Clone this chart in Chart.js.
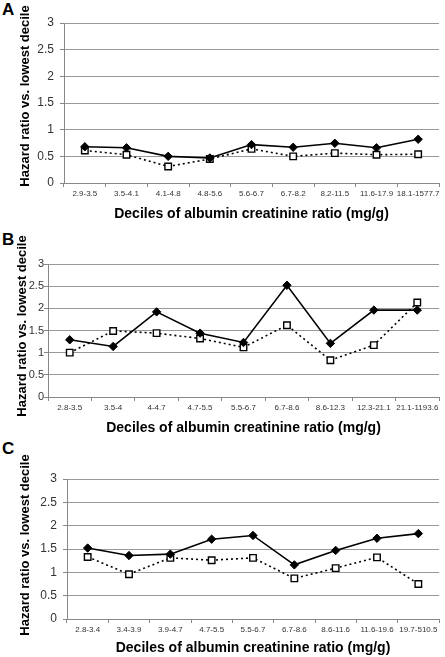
<!DOCTYPE html>
<html>
<head>
<meta charset="utf-8">
<script src="https://cdn.jsdelivr.net/npm/chart.js@4/dist/chart.umd.min.js"></script>
<style>
  body { margin: 0; background: #fff; width: 445px; height: 657px; position: relative; overflow: hidden; }
  canvas { position: absolute; left: 0; }
  .letter { position: absolute; left: 2px; font: bold 17px 'Liberation Sans', Arial, sans-serif; color: #000; }
</style>
</head>
<body>
<div class="letter" style="top:0px">A</div>
<div class="letter" style="top:230px">B</div>
<div class="letter" style="top:439px">C</div>
<canvas id="chart-a" width="445" height="223" style="top:0px"></canvas>
<canvas id="chart-b" width="445" height="214" style="top:223px"></canvas>
<canvas id="chart-c" width="445" height="220" style="top:437px"></canvas>
<script>
//data for the three panels
const yTicks = [0, 0.5, 1, 1.5, 2, 2.5, 3];

const labelsA = ['2.9-3.5', '3.5-4.1', '4.1-4.8', '4.8-5.6', '5.6-6.7', '6.7-8.2', '8.2-11.5', '11.6-17.9', '18.1-1577.7'];
const solidA = [0.68, 0.66, 0.50, 0.47, 0.72, 0.67, 0.745, 0.66, 0.82];
const dottedA = [0.61, 0.53, 0.31, 0.45, 0.64, 0.50, 0.56, 0.53, 0.54];

const labelsB = ['2.8-3.5', '3.5-4', '4-4.7', '4.7-5.5', '5.5-6.7', '6.7-8.6', '8.6-12.3', '12.3-21.1', '21.1-1193.6'];
const solidB = [1.29, 1.14, 1.92, 1.44, 1.23, 2.52, 1.21, 1.96, 1.96];
const dottedB = [1.00, 1.49, 1.44, 1.32, 1.12, 1.62, 0.83, 1.17, 2.13];

const labelsC = ['2.8-3.4', '3.4-3.9', '3.9-4.7', '4.7-5.5', '5.5-6.7', '6.7-8.6', '8.6-11.6', '11.6-19.6', '19.7-510.5'];
const solidC = [1.52, 1.36, 1.39, 1.71, 1.79, 1.16, 1.47, 1.73, 1.83];
const dottedC = [1.33, 0.96, 1.31, 1.26, 1.31, 0.87, 1.09, 1.32, 0.75];

const xTitle = 'Deciles of albumin creatinine ratio (mg/g)';
const yTitle = 'Hazard ratio vs. lowest decile';

Chart.defaults.font.family = "'Liberation Sans', Arial, sans-serif";
Chart.defaults.color = '#222';

//rotated y title, drawn a bit higher than the plot centre like the original
const yTitlePlugin = {
  id: 'yTitleText',
  afterDraw(chart, args, opts) {
    const ctx = chart.ctx;
    ctx.save();
    ctx.translate(opts.x, opts.y);
    ctx.rotate(-Math.PI / 2);
    ctx.font = "bold 13px 'Liberation Sans', Arial, sans-serif";
    ctx.fillStyle = '#000';
    ctx.textAlign = 'center';
    ctx.textBaseline = 'middle';
    ctx.fillText(yTitle, 0, 0);
    ctx.restore();
  }
};

//build one panel
function makePanel(id, labels, solid, dotted, box) {
  return new Chart(document.getElementById(id), {
    type: 'line',
    plugins: [yTitlePlugin],
    data: {
      labels: labels,
      datasets: [{
        label: 'solid',
        data: solid,
        borderColor: '#000',
        borderWidth: 1.6,
        backgroundColor: '#000',
        pointStyle: 'rectRot',
        pointRadius: 4.2,
        pointBorderWidth: 1,
        pointBorderColor: '#000',
        pointBackgroundColor: '#000',
        tension: 0
      }, {
        label: 'dotted',
        data: dotted,
        borderColor: '#000',
        borderWidth: 1.6,
        borderDash: [2, 3],
        pointStyle: 'rect',
        pointRadius: 4.6,
        pointBorderWidth: 1.4,
        pointBorderColor: '#000',
        pointBackgroundColor: '#fff',
        tension: 0
      }]
    },
    options: {
      responsive: false,
      animation: false,
      devicePixelRatio: 1,
      layout: { padding: { top: box.top, right: box.right, left: 0, bottom: 0 } },
      plugins: {
        legend: { display: false },
        tooltip: { enabled: false },
        yTitleText: { x: box.titleX, y: box.titleY }
      },
      scales: {
        x: {
          offset: true,
          afterFit: (scale) => { scale.height = box.xHeight; },
          grid: {
            display: true,
            offset: true,
            drawOnChartArea: false,
            drawTicks: true,
            tickLength: 4,
            tickColor: '#888',
            color: '#888'
          },
          border: { display: true, color: '#888', width: 1 },
          ticks: {
            autoSkip: false,
            maxRotation: 0,
            padding: 2,
            color: '#333',
            font: { size: 8 }
          },
          title: {
            display: true,
            text: xTitle,
            color: '#000',
            font: { size: 14, weight: 'bold' },
            padding: { top: 0, bottom: 0 }
          }
        },
        y: {
          min: 0,
          max: 3,
          afterFit: (scale) => { scale.width = box.yWidth; },
          afterBuildTicks: (scale) => { scale.ticks = yTicks.map(v => ({ value: v })); },
          grid: {
            color: '#999',
            borderDash: [4, 3],
            tickLength: 4,
            tickColor: '#888',
            tickBorderDash: []
          },
          border: { display: true, color: '#888', width: 1 },
          ticks: {
            padding: box.tickPad,
            color: '#333',
            font: { size: box.tickSize },
            callback: (v) => String(v)
          },
          title: { display: false }
        }
      }
    }
  });
}

const chartA = makePanel('chart-a', labelsA, solidA, dottedA, { top: 23, right: 5, xHeight: 40, yWidth: 64, tickPad: 6, tickSize: 12, titleX: 25, titleY: 96 });
const chartB = makePanel('chart-b', labelsB, solidB, dottedB, { top: 41, right: 2, xHeight: 40, yWidth: 48, tickPad: 0, tickSize: 11, titleX: 22, titleY: 103 });
const chartC = makePanel('chart-c', labelsC, solidC, dottedC, { top: 42, right: 0, xHeight: 38, yWidth: 67, tickPad: 6, tickSize: 12, titleX: 25, titleY: 108 });
</script>
</body>
</html>
